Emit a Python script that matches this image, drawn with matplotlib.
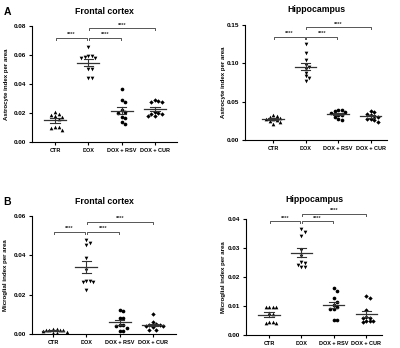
import numpy as np
import matplotlib
matplotlib.use("Agg")
import matplotlib.pyplot as plt

plt.rcParams['font.family'] = ['Liberation Sans', 'DejaVu Sans']
plt.rcParams['font.weight'] = 'bold'

groups = ['CTR', 'DOX', 'DOX + RSV', 'DOX + CUR']
markers = ['^', 'v', 'o', 'D']

# astrocyte index, frontal cortex
astro_fc_ctr = [0.0207, 0.0195, 0.0188, 0.0180, 0.0172, 0.0156, 0.0103, 0.0103, 0.0097, 0.0085]
astro_fc_dox = [0.0655, 0.0590, 0.0590, 0.0586, 0.0580, 0.0580, 0.0506, 0.0506, 0.0444, 0.0444]
astro_fc_rsv = [0.0366, 0.0287, 0.0276, 0.0218, 0.0207, 0.0200, 0.0172, 0.0168, 0.0136, 0.0126]
astro_fc_cur = [0.0287, 0.0283, 0.0276, 0.0276, 0.0205, 0.0200, 0.0195, 0.0195, 0.0177, 0.0177]

# astrocyte index, hippocampus
astro_hc_ctr = [0.033, 0.031, 0.030, 0.029, 0.028, 0.027, 0.026, 0.025, 0.024, 0.021]
astro_hc_dox = [0.125, 0.113, 0.104, 0.098, 0.095, 0.093, 0.088, 0.083, 0.081, 0.077]
astro_hc_rsv = [0.039, 0.039, 0.038, 0.037, 0.035, 0.033, 0.032, 0.030, 0.027, 0.026]
astro_hc_cur = [0.038, 0.036, 0.034, 0.033, 0.031, 0.030, 0.028, 0.027, 0.026, 0.024]

# microglial index, frontal cortex
micro_fc_ctr = [0.0025, 0.0024, 0.0022, 0.0021, 0.0020, 0.0018, 0.0016, 0.0012, 0.0006, 0.0006]
micro_fc_dox = [0.0477, 0.0462, 0.0452, 0.0387, 0.0323, 0.0272, 0.0269, 0.0264, 0.0264, 0.0222]
micro_fc_rsv = [0.0121, 0.0118, 0.0082, 0.0079, 0.0045, 0.0045, 0.0040, 0.0029, 0.0015, 0.0015]
micro_fc_cur = [0.0101, 0.0059, 0.0049, 0.0045, 0.0044, 0.0042, 0.0042, 0.0037, 0.0020, 0.0020]

# microglial index, hippocampus
micro_hc_ctr = [0.0096, 0.0096, 0.0095, 0.0095, 0.0075, 0.0072, 0.0045, 0.0044, 0.0043, 0.0043]
micro_hc_dox = [0.0365, 0.0356, 0.0340, 0.0294, 0.0271, 0.0253, 0.0247, 0.0242, 0.0236, 0.0234]
micro_hc_rsv = [0.0161, 0.0153, 0.0126, 0.0114, 0.0103, 0.0097, 0.0091, 0.0089, 0.0053, 0.0053]
micro_hc_cur = [0.0136, 0.0126, 0.0086, 0.0062, 0.0060, 0.0060, 0.0049, 0.0049, 0.0047, 0.0045]

W, H = 400, 348
fig = plt.figure(figsize=(W / 100, H / 100), dpi=100)


def px(x, y):
    return x / W, 1 - y / H


def swarm(ax, xc, vals, d):
    # simple beeswarm in pixel space
    placed = []
    xs = np.zeros(len(vals))
    inv = ax.transData.inverted()
    cx, _ = ax.transData.transform((xc, 0))
    for i in np.argsort(vals)[::-1]:
        _, py = ax.transData.transform((xc, vals[i]))
        for k in range(60):
            off = ((k + 1) // 2) * d * (1 if k % 2 == 1 else -1)
            qx = cx + off
            if all(np.hypot(qx - a, py - b) >= d for a, b in placed):
                break
        placed.append((qx, py))
        xs[i] = inv.transform((qx, py))[0]
    return xs


def panel(box, ylim, yticks, data, title, ylabel, brackets, letter=None):
    left, right, top, bottom, tick0, step, ylab_x, title_y = box
    x0, y0 = px(left, bottom)
    x1, y1 = px(right, top)
    ax = fig.add_axes([x0, y0, x1 - x0, y1 - y0])
    ax.set_xlim((left - tick0) / step, (right - tick0) / step)
    ax.set_ylim(*ylim)
    for s in ('top', 'right'):
        ax.spines[s].set_visible(False)
    for s in ('left', 'bottom'):
        ax.spines[s].set_linewidth(0.8)
    ax.set_xticks(range(4))
    ax.set_xticklabels(groups, fontsize=4, fontweight='bold')
    ax.set_yticks(yticks)
    ax.set_yticklabels([f'{t:.2f}' for t in yticks], fontsize=4.6, fontweight='bold')
    ax.tick_params(length=2.5, width=0.8, pad=1.5)
    ax.set_ylabel(ylabel, fontsize=4.4, fontweight='bold')
    ax.yaxis.set_label_coords((ylab_x - left) / (right - left), 0.5)

    for i, vals in enumerate(data):
        vals = np.asarray(vals)
        xs = swarm(ax, i, vals, 3.5)
        ax.scatter(xs, vals, marker=markers[i], s=7 if markers[i] != 'D' else 5,
                   color='black', linewidths=0, zorder=3)
        m = vals.mean()
        sem = vals.std(ddof=1) / np.sqrt(len(vals))
        ax.plot([i - 0.33, i + 0.33], [m, m], color='#333333', lw=0.9, zorder=4)
        ax.plot([i, i], [m - sem, m + sem], color='#333333', lw=0.8, zorder=4)
        for v in (m - sem, m + sem):
            ax.plot([i - 0.14, i + 0.14], [v, v], color='#333333', lw=0.8, zorder=4)

    span = ylim[1] - ylim[0]
    for a, b, yb in brackets:
        h = span * 0.018
        ax.plot([a, a, b, b], [yb - h, yb, yb, yb - h], color='#555555',
                lw=0.7, clip_on=False)
        ax.text((a + b) / 2, yb + span * 0.004, '****', ha='center', va='bottom',
                fontsize=4, fontweight='bold', color='#333333', clip_on=False)

    tx, ty = px((left + right) / 2, title_y)
    fig.text(tx, ty, title, ha='center', va='center', fontsize=6.3, fontweight='bold')
    if letter:
        lx, ly = px(7, title_y + 1)
        fig.text(lx, ly, letter, ha='center', va='center', fontsize=7.5, fontweight='bold')
    return ax


panel((32, 177, 26, 142, 55, 33.3, 9, 11), (0, 0.08), [0, 0.02, 0.04, 0.06, 0.08],
      [astro_fc_ctr, astro_fc_dox, astro_fc_rsv, astro_fc_cur],
      'Frontal cortex', 'Astrocyte index per area',
      [(0.03, 0.97, 0.0719), (1.03, 1.97, 0.0719), (1.03, 3.0, 0.0786)], letter='A')

panel((245, 387, 25, 140, 273, 32.5, 226, 10), (0, 0.15), [0, 0.05, 0.10, 0.15],
      [astro_hc_ctr, astro_hc_dox, astro_hc_rsv, astro_hc_cur],
      'Hippocampus', 'Astrocyte index per area',
      [(0.03, 0.97, 0.1348), (1.03, 1.97, 0.1348), (1.03, 3.0, 0.147)])

panel((32, 176, 216, 334, 53, 33.3, 8, 201), (0, 0.06), [0, 0.02, 0.04, 0.06],
      [micro_fc_ctr, micro_fc_dox, micro_fc_rsv, micro_fc_cur],
      'Frontal cortex', 'Microglial index per area',
      [(0.03, 0.97, 0.0521), (1.03, 1.97, 0.0521), (1.03, 3.0, 0.0571)], letter='B')

panel((246, 382, 219, 335, 269, 32.4, 226, 199), (0, 0.04), [0, 0.01, 0.02, 0.03, 0.04],
      [micro_hc_ctr, micro_hc_dox, micro_hc_rsv, micro_hc_cur],
      'Hippocampus', 'Microglial index per area',
      [(0.03, 0.97, 0.0392), (1.03, 1.97, 0.0392), (1.03, 3.0, 0.0418)])

fig.savefig('out.png', dpi=100)
